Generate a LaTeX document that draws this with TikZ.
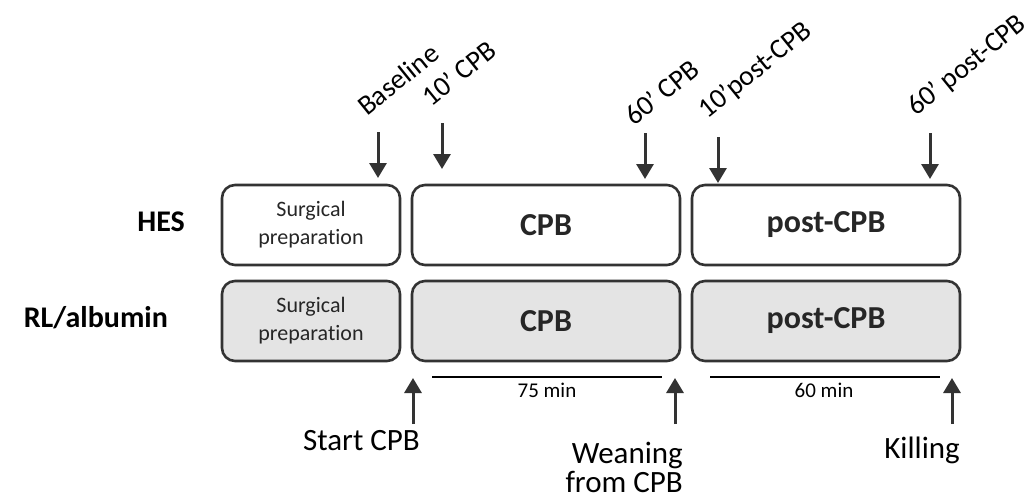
\documentclass[tikz,border=0pt]{standalone}
\usepackage{fontspec}
\setmainfont[Ligatures=NoCommon]{Carlito}
\usetikzlibrary{arrows.meta}
\definecolor{txt}{HTML}{262626}
\definecolor{bord}{HTML}{333333}
\definecolor{gfill}{HTML}{E4E4E4}
\tikzset{
  phase/.style={draw=bord, line width=2.6pt, rounded corners=13pt, minimum height=80pt, inner sep=0pt, align=center, text=txt},
  bigbold/.style={font=\fontsize{32}{36}\selectfont\bfseries},
  small/.style={font=\fontsize{22}{28}\selectfont},
  grp/.style={font=\fontsize{30}{34}\selectfont\bfseries, text=black, inner sep=0pt},
  tlabel/.style={font=\fontsize{28}{32}\selectfont, rotate=39, anchor=base west, inner sep=0pt, text=black},
  evlabel/.style={font=\fontsize{31}{30}\selectfont, inner sep=0pt, text=black},
  durlabel/.style={font=\fontsize{21}{24}\selectfont, inner sep=0pt, anchor=base, text=black},
  marker/.style={draw=bord, line width=3pt, -{Triangle[length=15pt,width=17pt]}},
  durline/.style={draw=black, line width=1.3pt}
}
\begin{document}
\begin{tikzpicture}[x=1pt,y=-1pt]
\useasboundingbox (0,0) rectangle (1035,498);
% group labels
\node[grp, anchor=east] (hes) at (185,222) {HES};
\node[grp, anchor=east] (rl) at (168,318) {RL/albumin};
% phase boxes
\node[phase, small, minimum width=178pt] (s1) at (311,225) {Surgical\\preparation};
\node[phase, bigbold, minimum width=268pt] (c1) at (546,225) {CPB};
\node[phase, bigbold, minimum width=268pt] (p1) at (826,225) {post-CPB};
\node[phase, small, fill=gfill, minimum width=178pt] (s2) at (311,321) {Surgical\\preparation};
\node[phase, bigbold, fill=gfill, minimum width=268pt] (c2) at (546,321) {CPB};
\node[phase, bigbold, fill=gfill, minimum width=268pt] (p2) at (826,321) {post-CPB};
% time point labels
\node[tlabel] (tb) at (367,117) {Baseline};
\node[tlabel] (t10) at (431,108) {10’ CPB};
\node[tlabel] (t60) at (634,127) {60’ CPB};
\node[tlabel] (tp10) at (707,120) {10’post-CPB};
\node[tlabel] (tp60) at (916,117) {60’ post-CPB};
% down arrows
\coordinate (a1s) at (378,132); \coordinate (a1e) at (378,178);
\coordinate (a2s) at (442,123); \coordinate (a2e) at (442,169);
\coordinate (a3s) at (645,133); \coordinate (a3e) at (645,179);
\coordinate (a4s) at (718,137); \coordinate (a4e) at (718,183);
\coordinate (a5s) at (930,133); \coordinate (a5e) at (930,179);
\draw[marker] (a1s) -- (a1e);
\draw[marker] (a2s) -- (a2e);
\draw[marker] (a3s) -- (a3e);
\draw[marker] (a4s) -- (a4e);
\draw[marker] (a5s) -- (a5e);
% up arrows
\coordinate (u1s) at (413,424); \coordinate (u1e) at (413,378);
\coordinate (u2s) at (675,424); \coordinate (u2e) at (675,378);
\coordinate (u3s) at (952,424); \coordinate (u3e) at (952,378);
\draw[marker] (u1s) -- (u1e);
\draw[marker] (u2s) -- (u2e);
\draw[marker] (u3s) -- (u3e);
% event labels
\node[evlabel, anchor=base east] (start) at (420,450) {Start CPB};
\node[evlabel, anchor=base east] (wean1) at (683,463) {Weaning};
\node[evlabel, anchor=base east] (wean2) at (683,492) {from CPB};
\node[evlabel, anchor=base east] (kill) at (960,458) {Killing};
% durations
\coordinate (d1s) at (432,377); \coordinate (d1e) at (662,377);
\coordinate (d2s) at (710,377); \coordinate (d2e) at (940,377);
\draw[durline] (d1s) -- (d1e);
\draw[durline] (d2s) -- (d2e);
\node[durlabel] (m75) at (547,397) {75 min};
\node[durlabel] (m60) at (824,397) {60 min};
\end{tikzpicture}
\end{document}
